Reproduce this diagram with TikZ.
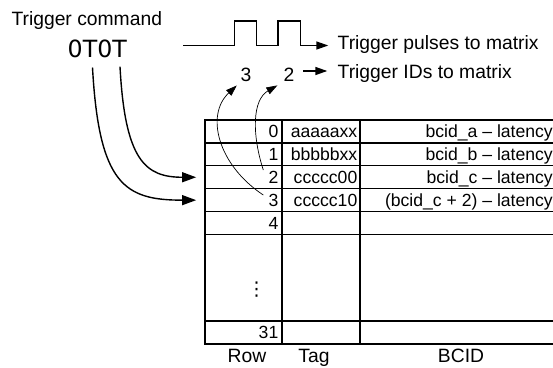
\documentclass[tikz,border=0pt]{standalone}
\usepackage{fontspec}
\setmainfont{Liberation Sans}
\newfontfamily\dejavu{DejaVu Sans}
\usetikzlibrary{arrows.meta}
\begin{document}
\begin{tikzpicture}[x=1pt,y=-1pt,
  lbl/.style={font=\fontsize{19.3pt}{23pt}\selectfont, inner sep=0pt, anchor=base west},
  mid/.style={font=\fontsize{19.3pt}{23pt}\selectfont, inner sep=0pt, anchor=base},
  ctext/.style={font=\fontsize{17.6pt}{21pt}\selectfont, inner sep=0pt, anchor=base east},
  cellbox/.style={draw, line width=1.2pt, minimum height=22.9pt, inner sep=0pt},
  heavy/.style={line width=1.4pt},
  fine/.style={line width=0.7pt},
  bigtip/.style={-{Triangle[length=14pt,width=10pt]}},
  midtip/.style={-{Triangle[length=12pt,width=8pt]}},
  smalltip/.style={-{Triangle[length=11pt,width=7.5pt]}},
]
\useasboundingbox (0,0) rectangle (553,367);
\clip (0,0) rectangle (553,367);

% top texts
\node[lbl] (cmdlabel) at (11.3,25.7) {Trigger command};
\node[inner sep=0pt, anchor=base west, font=\dejavu\fontsize{23.7pt}{28pt}\selectfont] (cmd) at (67.5,57.3) {0T0T};
\node[lbl] (pulses) at (337.5,49.3) {Trigger pulses to matrix};
\node[lbl] (ids) at (337.5,78.3) {Trigger IDs to matrix};
\node[mid] (lab3) at (246,81.7) {3};
\node[mid] (lab2) at (289,81.7) {2};

% waveform
\coordinate (w0) at (183,45.5);
\coordinate (w1) at (328.3,45.5);
\draw[heavy, midtip] (w0) -- (234.5,45.5) -- (234.5,21) -- (256.5,21) -- (256.5,45.5)
  -- (278,45.5) -- (278,21) -- (300.5,21) -- (300.5,45.5) -- (w1);

% arrow 2 -> IDs
\coordinate (a2s) at (303.3,71);
\coordinate (a2e) at (327.3,71);
\draw[heavy, midtip] (a2s) -- (a2e);

% table
\foreach \r/\y in {0/131.45,1/154.35,2/177.25,3/200.15,4/223.05,31/332.5} {
  \node[cellbox, minimum width=77pt] (row\r) at (243.5,\y) {};
  \node[cellbox, minimum width=78pt] (tag\r) at (321,\y) {};
  \node[cellbox, minimum width=240pt] (bc\r) at (480,\y) {};
  \node[ctext] (n\r) at (278.5,\y+6.3) {\r};
}
\node[cellbox, minimum width=77pt, minimum height=86.6pt] (rowdots) at (243.5,277.75) {};
\node[cellbox, minimum width=78pt, minimum height=86.6pt] (tagdots) at (321,277.75) {};
\node[cellbox, minimum width=240pt, minimum height=86.6pt] (bcdots) at (480,277.75) {};
\node[inner sep=0pt, font=\dejavu\fontsize{19pt}{22pt}\selectfont] (vd) at (256.7,290) {⋮};

\node[ctext] (g0) at (357.5,137.75) {aaaaaxx};
\node[ctext] (g1) at (357.5,160.65) {bbbbbxx};
\node[ctext] (g2) at (357.5,183.55) {ccccc00};
\node[ctext] (g3) at (357.5,206.45) {ccccc10};

\node[ctext] (b0) at (553,137.75) {bcid\_a – latency};
\node[ctext] (b1) at (553,160.65) {bcid\_b – latency};
\node[ctext] (b2) at (553,183.55) {bcid\_c – latency};
\node[ctext] (b3) at (553,206.45) {(bcid\_c + 2) – latency};

\node[mid] (hrow) at (247,362.5) {Row};
\node[mid] (htag) at (314,362.5) {Tag};
\node[mid] (hbcid) at (461,362.5) {BCID};

% thick curves from command to rows
\coordinate (s1) at (92.5,67.5);
\coordinate (s2) at (120,66.7);
\draw[heavy, bigtip, shorten >=8.3pt] (s1) .. controls (99,185) and (125,200.15) .. (row3.west);
\draw[heavy, bigtip, shorten >=8.3pt] (s2) .. controls (125,160) and (145,177.25) .. (row2.west);

% thin curves from rows to IDs
\coordinate (u3) at (263.3,195);
\coordinate (u2) at (263.3,170);
\draw[fine, smalltip, shorten >=5pt] (u3) .. controls (218,165) and (205,115) .. (lab3.south west);
\draw[fine, smalltip, shorten >=7pt] (u2) .. controls (252,135) and (252,100) .. (lab2.south west);
\end{tikzpicture}
\end{document}
